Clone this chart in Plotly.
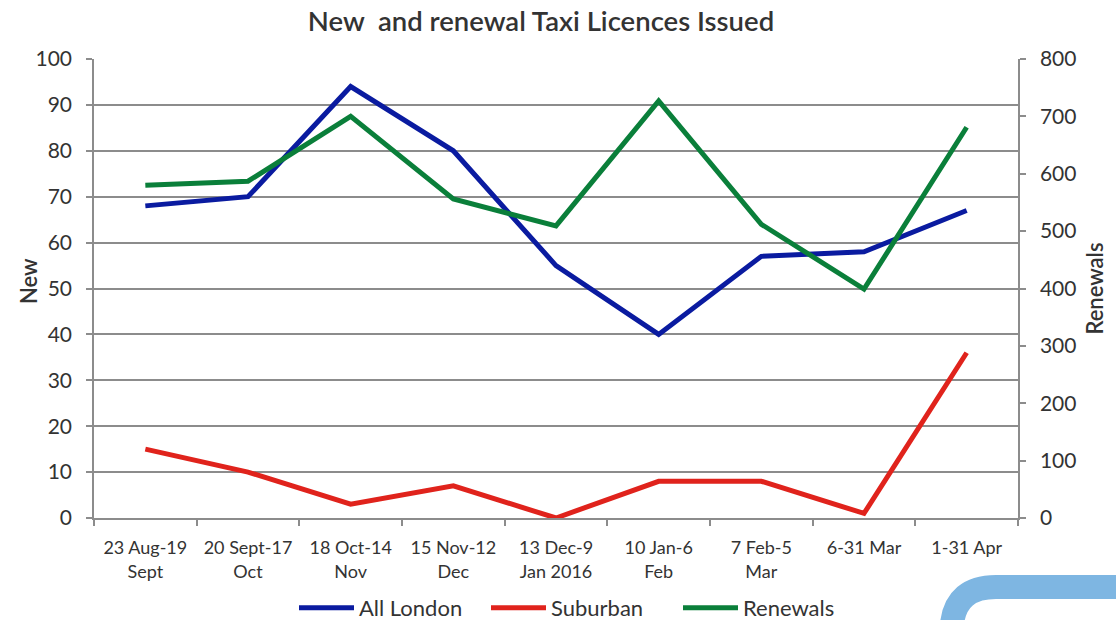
import plotly.graph_objects as go

categories = ["23 Aug-19<br>Sept", "20 Sept-17<br>Oct", "18 Oct-14<br>Nov", "15 Nov-12<br>Dec",
              "13 Dec-9<br>Jan 2016", "10 Jan-6<br>Feb", "7 Feb-5<br>Mar", "6-31 Mar", "1-31 Apr"]
all_london = [68, 70, 94, 80, 55, 40, 57, 58, 67]
suburban = [15, 10, 3, 7, 0, 8, 8, 1, 36]
renewals = [580, 587, 700, 556, 509, 727, 512, 399, 681]

FONT = "Lato"
TXT = "#333333"
GRID = "#8c8c8c"

fig = go.Figure()
fig.add_trace(go.Scatter(x=categories, y=all_london, name="All London", mode="lines",
                         line=dict(color="#0A1BA0", width=5)))
fig.add_trace(go.Scatter(x=categories, y=suburban, name="Suburban", mode="lines",
                         line=dict(color="#E0231C", width=5)))
fig.add_trace(go.Scatter(x=categories, y=renewals, name="Renewals", mode="lines", yaxis="y2",
                         line=dict(color="#0A7F3A", width=5)))

W, H = 1116, 620
L, R, T, B = 94, 1018, 59, 518


def px(x):
    return (x - L) / (R - L)


def py(y):
    return (B - y) / (B - T)


deco = (f"M {px(952)},{py(624)} Q {px(956)},{py(587)} {px(996)},{py(587)} "
        f"L {px(1125)},{py(587)}")

axis_common = dict(showline=True, linecolor=GRID, linewidth=1.5, ticks="outside",
                   ticklen=6, tickcolor=GRID, tickwidth=1.5, zeroline=False, automargin=False)

fig.update_layout(
    width=W, height=H,
    margin=dict(l=L, r=W - R, t=T, b=H - B),
    paper_bgcolor="white", plot_bgcolor="white",
    font=dict(family=FONT, color=TXT, size=18),
    title=dict(text="New\u00a0\u00a0and renewal Taxi Licences Issued", x=541 / W, xanchor="center",
               xref="container", yref="container", y=1 - 21 / H, yanchor="middle",
               font=dict(family=FONT, size=27.5, color=TXT, weight=600)),
    showlegend=True,
    legend=dict(orientation="h", x=px(294), xanchor="left", yref="container",
                y=(H - 608) / H, yanchor="middle", entrywidth=122, entrywidthmode="pixels",
                font=dict(size=22, color=TXT), itemwidth=55, traceorder="normal",
                bgcolor="rgba(0,0,0,0)"),
    xaxis=dict(**axis_common, tickson="boundaries", showgrid=False, tickangle=0,
               tickfont=dict(size=18, color=TXT), range=[-0.5, 8.5], ticklabelstandoff=13),
    yaxis=dict(**axis_common, range=[0, 100], dtick=10, showgrid=True, gridcolor=GRID,
               gridwidth=1.5, ticklabelstandoff=10,
               tickfont=dict(size=21, color=TXT)),
    yaxis2=dict(**axis_common, range=[0, 800], dtick=100, overlaying="y", side="right",
                showgrid=False, ticklabelstandoff=10,
                title=dict(text="Renewals", font=dict(size=22, color=TXT, weight=600), standoff=12),
                tickfont=dict(size=21, color=TXT)),
    annotations=[dict(text="New", textangle=-90, xref="paper", yref="paper",
                      x=px(28), y=py(281), xanchor="center", yanchor="middle", showarrow=False,
                      font=dict(size=22, color=TXT, weight=600))],
    shapes=[dict(type="path", xref="paper", yref="paper", path=deco,
                 line=dict(color="#7EB6E2", width=24), layer="above")],
)

fig.write_html("out.html", config={"displayModeBar": False},
               post_script="document.body.style.margin='0';")
